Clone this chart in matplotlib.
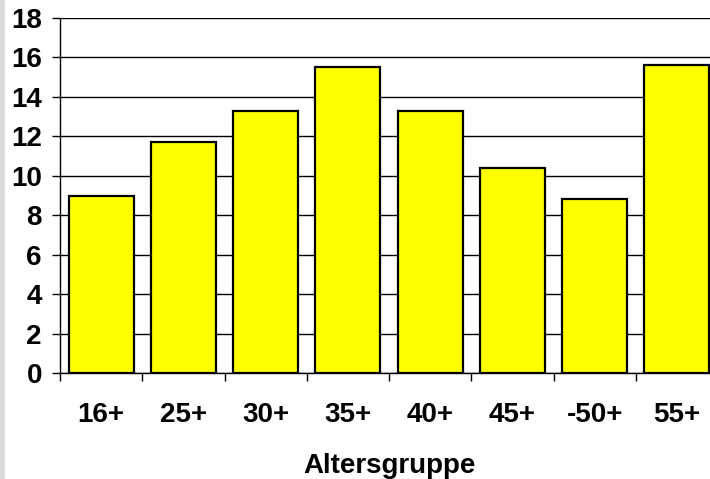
import matplotlib.pyplot as plt
import numpy as np
from matplotlib.patches import Rectangle

groups = ['16+', '25+', '30+', '35+', '40+', '45+', '-50+', '55+']
values = [9.0, 11.7, 13.3, 15.5, 13.3, 10.4, 8.8, 15.6]

plt.rcParams['font.family'] = ['Liberation Sans', 'DejaVu Sans']
plt.rcParams['font.weight'] = 'bold'

fig = plt.figure(figsize=(7.1, 4.79), dpi=100)
fig.patches.append(Rectangle((0, 0), 5 / 710, 1, transform=fig.transFigure,
                             facecolor='#dcdcdc', edgecolor='none'))

ax = fig.add_axes([60 / 710, 1 - 373 / 479, 658 / 710, 355 / 479])
x = np.arange(len(groups))
ax.bar(x, values, width=0.79, color='#ffff00', edgecolor='black', linewidth=1.6, zorder=3)

ax.set_xlim(-0.5, len(groups) - 0.5)
ax.set_ylim(0, 18)
ax.set_yticks(np.arange(0, 19, 2))
ax.yaxis.grid(True, color='black', linewidth=1.0, zorder=0)

ax.set_xticks(x)
ax.set_xticklabels(groups, fontsize=20, fontweight='bold')
ax.set_xticks(np.arange(-0.5, len(groups), 1), minor=True)
ax.tick_params(axis='x', which='major', length=0, pad=21)
ax.tick_params(axis='x', which='minor', length=6, width=1, direction='out')
ax.tick_params(axis='y', length=6, width=1, labelsize=20, pad=7)
for lab in ax.get_yticklabels():
    lab.set_fontweight('bold')

for s in ['top', 'right']:
    ax.spines[s].set_visible(False)
ax.spines['left'].set_linewidth(1.0)
ax.spines['bottom'].set_linewidth(1.0)

ax.set_xlabel('Altersgruppe', fontsize=20, fontweight='bold', labelpad=18)

fig.savefig('out.png', dpi=100)
